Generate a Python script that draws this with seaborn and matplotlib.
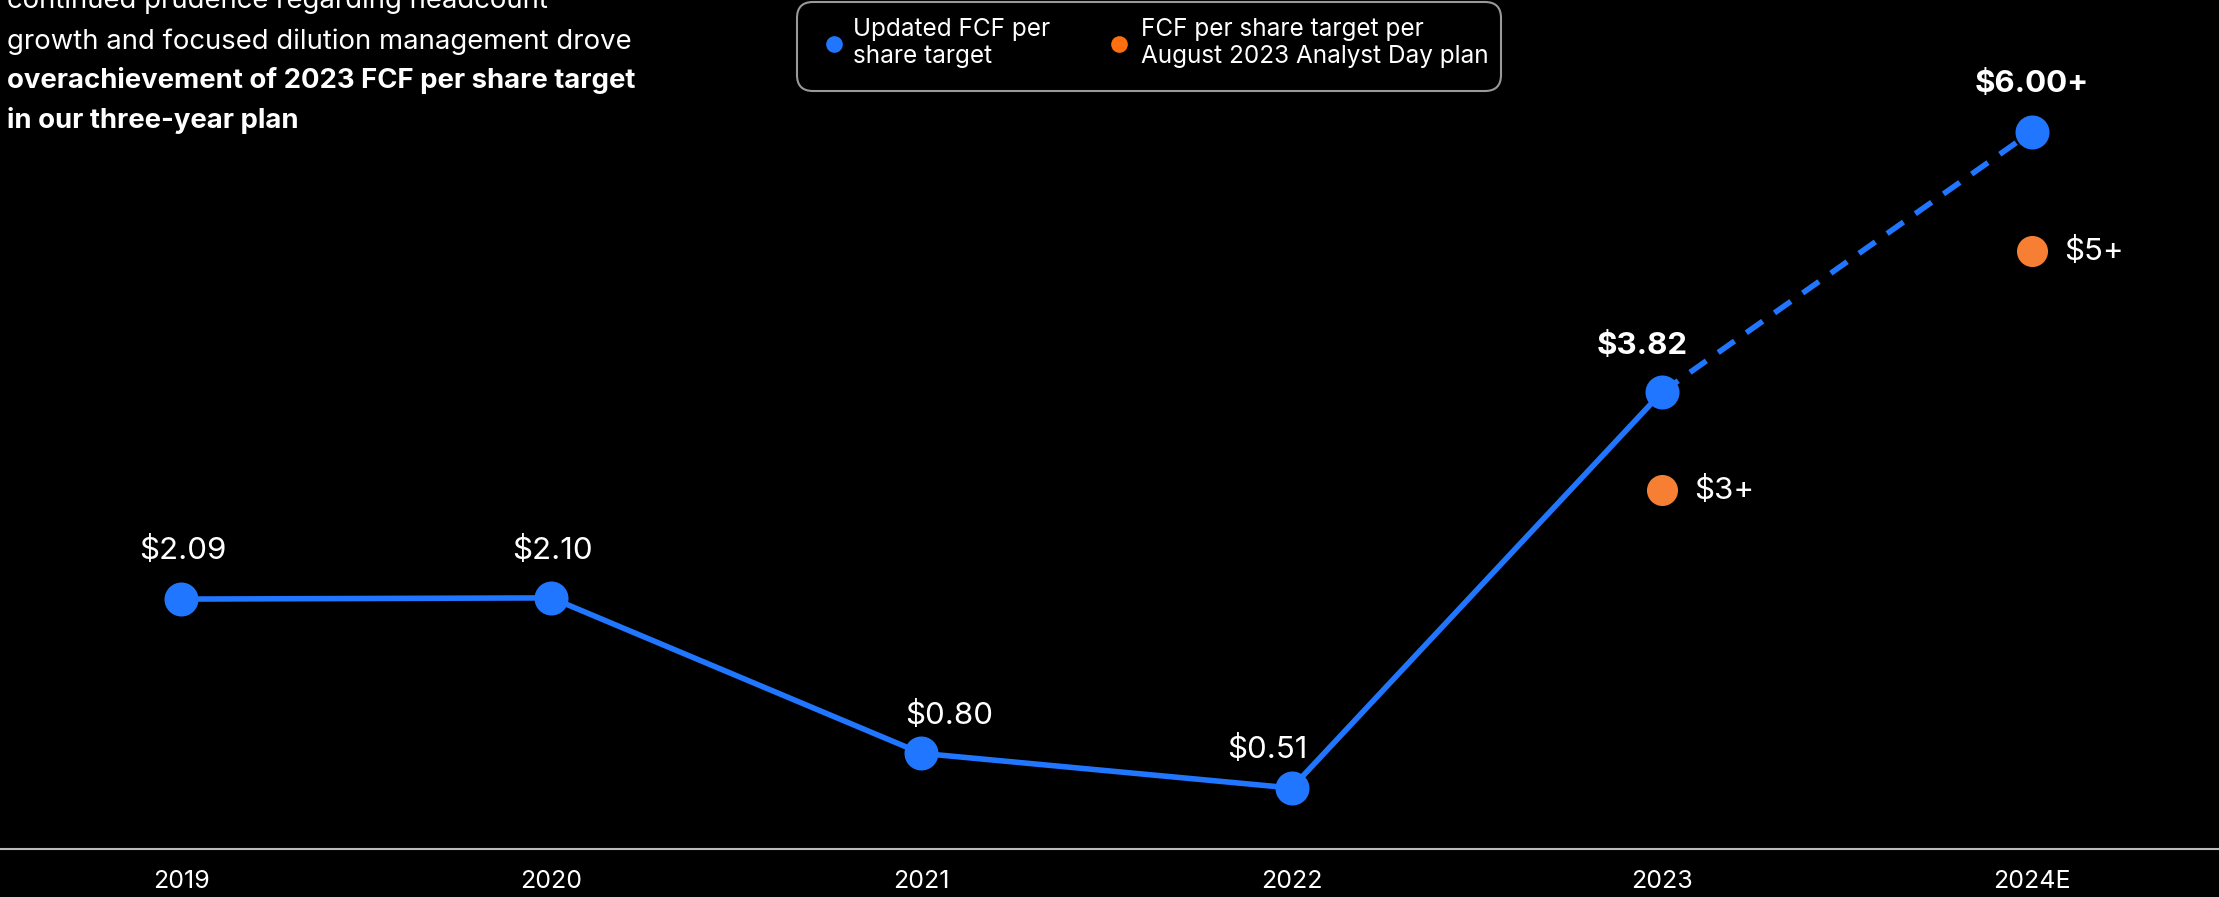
import matplotlib.pyplot as plt
import seaborn as sns
from matplotlib.lines import Line2D
from matplotlib.patches import FancyBboxPatch

# data
years = ["2019", "2020", "2021", "2022", "2023", "2024E"]
fcf_per_share = [2.09, 2.10, 0.80, 0.51, 3.82, 6.00]
value_labels = ["$2.09", "$2.10", "$0.80", "$0.51", "$3.82", "$6.00+"]
plan_years = ["2023", "2024E"]
plan_targets = [3, 5]
plan_labels = ["$3+", "$5+"]

blurb = ["continued prudence regarding headcount",
         "growth and focused dilution management drove",
         "overachievement of 2023 FCF per share target",
         "in our three-year plan"]
blurb_bold = [False, False, True, True]

BLUE = "#2176FF"
ORANGE = "#F77F34"
LEG_ORANGE = "#FF6F0F"

sns.set_style("dark", {"axes.facecolor": "black", "figure.facecolor": "black"})
plt.rcParams["font.family"] = ["Inter", "DejaVu Sans"]

fig = plt.figure(figsize=(22.19, 8.97), dpi=100)
ax = fig.add_axes([0, 48 / 897, 1, 849 / 897])

x = list(range(len(years)))
plan_x = [years.index(y) for y in plan_years]

# solid actuals, dashed for the estimate year
sns.lineplot(x=x[:5], y=fcf_per_share[:5], ax=ax, color=BLUE, lw=4, zorder=2)
sns.lineplot(x=x[4:], y=fcf_per_share[4:], ax=ax, color=BLUE, lw=4,
             dashes=False, zorder=2)
ax.lines[-1].set_dashes((3.6, 2.6))
sns.scatterplot(x=x, y=fcf_per_share, ax=ax, color=BLUE, s=600,
                linewidth=0, zorder=3)
sns.scatterplot(x=plan_x, y=plan_targets, ax=ax, color=ORANGE, s=500,
                linewidth=0, zorder=3)

offsets = [(2, 49), (1, 47), (28, 38), (-24, 39), (-20, 46), (0, 48)]
for i, (v, lab) in enumerate(zip(fcf_per_share, value_labels)):
    bold = i >= 4
    ax.annotate(lab, (x[i], v), xytext=offsets[i], textcoords="offset pixels",
                ha="center", va="center", color="white", fontsize=22.5,
                fontweight="bold" if bold else "normal")
for px, v, lab in zip(plan_x, plan_targets, plan_labels):
    ax.annotate(lab, (px, v), xytext=(32, 0), textcoords="offset pixels",
                ha="left", va="center", color="white", fontsize=22.5)

ax.set_xlim(-0.489, 5.505)
ax.set_ylim(0, 7.10)
ax.set_xticks(x, years)
ax.set_yticks([])
ax.tick_params(axis="x", length=0, pad=15, labelsize=18, colors="white")
for s in ["top", "left", "right"]:
    ax.spines[s].set_visible(False)
ax.spines["bottom"].set_color("#BBBBBB")
ax.spines["bottom"].set_linewidth(1.5)
ax.grid(False)
ax.set_xlabel("")
ax.set_ylabel("")

# top-left commentary
for line, b, base in zip(blurb, blurb_bold, [8, 49, 88, 128]):
    fig.text(7 / 2219, 1 - base / 897, line, color="white", fontsize=19.8,
             fontweight="bold" if b else "normal", va="baseline", ha="left")

# legend box drawn by hand
tr = fig.dpi_scale_trans
fig.add_artist(FancyBboxPatch((7.97, 8.06), 7.04, 0.89, transform=tr,
                              boxstyle="round,pad=0,rounding_size=0.16",
                              facecolor="black", edgecolor="#999999", lw=1.5))
fig.add_artist(Line2D([8.34], [8.53], transform=tr, marker="o", ms=12,
                      color=BLUE, mew=0))
fig.add_artist(Line2D([11.19], [8.53], transform=tr, marker="o", ms=12,
                      color=LEG_ORANGE, mew=0))
fig.text(8.53, 8.54, "Updated FCF per\nshare target", transform=tr,
         color="white", fontsize=17.5, va="center", ha="left", linespacing=1.25)
fig.text(11.41, 8.54, "FCF per share target per\nAugust 2023 Analyst Day plan",
         transform=tr, color="white", fontsize=17.5, va="center", ha="left",
         linespacing=1.25)

fig.savefig("out.png", dpi=100, facecolor="black")
